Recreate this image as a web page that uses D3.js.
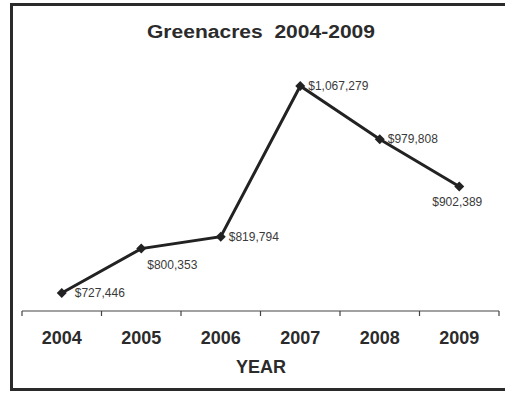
<!DOCTYPE html>
<meta charset="utf-8" />
<style>
    body { margin: 0; background: #fff; }
    text { font-family: Arial, "Liberation Sans", sans-serif; }
</style>
<svg width="505" height="394"></svg>
<script src="https://d3js.org/d3.v7.min.js"></script>
<script>
    var svg = d3.select("svg");

    // sales per year
    var years = ["2004", "2005", "2006", "2007", "2008", "2009"];
    var values = [727446, 800353, 819794, 1067279, 979808, 902389];
    // where each value label sits relative to its point
    var labelPos = ["right", "below", "right", "right", "right", "below"];

    var data = years.map(function (y, i) {
        return { year: y, value: values[i], pos: labelPos[i] };
    });

    // outer frame (left, top, bottom; runs off the right edge)
    svg.append("path")
        .attr("d", "M505,4.5 H11.5 V389.5 H505")
        .attr("fill", "none")
        .attr("stroke", "#2a2a2a")
        .attr("stroke-width", 3);

    svg.append("text")
        .attr("x", 261)
        .attr("y", 38)
        .attr("text-anchor", "middle")
        .attr("font-size", 18)
        .attr("font-weight", "bold")
        .attr("fill", "#2b2b2b")
        .attr("textLength", 228)
        .attr("lengthAdjust", "spacingAndGlyphs")
        .style("white-space", "pre")
        .text("Greenacres  2004-2009");

    var x = d3.scaleBand()
        .domain(years)
        .range([22, 499]);

    var y = d3.scaleLinear()
        .domain([727446, 1067279])
        .range([293, 86]);

    // x axis with ticks between categories
    var axis = svg.append("g").attr("transform", "translate(0,311)");
    axis.append("line")
        .attr("x1", 22).attr("x2", 499)
        .attr("stroke", "#444").attr("stroke-width", 1.2);
    var edges = years.map(function (d) { return x(d); }).concat([499]);
    axis.selectAll("line.tick")
        .data(edges)
        .enter()
        .append("line")
        .attr("class", "tick")
        .attr("x1", function (d) { return d; })
        .attr("x2", function (d) { return d; })
        .attr("y1", 0)
        .attr("y2", 5)
        .attr("stroke", "#444")
        .attr("stroke-width", 1.2);
    axis.selectAll("text")
        .data(years)
        .enter()
        .append("text")
        .attr("x", function (d) { return x(d) + x.bandwidth() / 2; })
        .attr("y", 33)
        .attr("text-anchor", "middle")
        .attr("font-size", 18)
        .attr("font-weight", "bold")
        .attr("fill", "#2b2b2b")
        .text(function (d) { return d; });

    svg.append("text")
        .attr("x", 261)
        .attr("y", 373)
        .attr("text-anchor", "middle")
        .attr("font-size", 18)
        .attr("font-weight", "bold")
        .attr("fill", "#2b2b2b")
        .text("YEAR");

    var cx = function (d) { return x(d.year) + x.bandwidth() / 2; };

    var line = d3.line()
        .x(cx)
        .y(function (d) { return y(d.value); });

    svg.append("path")
        .datum(data)
        .attr("d", line)
        .attr("fill", "none")
        .attr("stroke", "#222")
        .attr("stroke-width", 3);

    // square markers turned 45 degrees
    svg.append("g")
        .selectAll("path")
        .data(data)
        .enter()
        .append("path")
        .attr("d", d3.symbol().type(d3.symbolSquare).size(50))
        .attr("transform", function (d) {
            return "translate(" + cx(d) + "," + y(d.value) + ") rotate(45)";
        })
        .attr("fill", "#222");

    var fmt = d3.format("$,");
    svg.append("g")
        .selectAll("text")
        .data(data)
        .enter()
        .append("text")
        .attr("x", function (d) {
            if (d.year === "2009") return cx(d) - 2;
            if (d.year === "2004") return cx(d) + 13;
            return cx(d) + (d.pos === "right" ? 8 : 6);
        })
        .attr("y", function (d) {
            return d.pos === "right" ? y(d.value) + 4 : y(d.value) + 20;
        })
        .attr("text-anchor", function (d) {
            return d.year === "2009" ? "middle" : "start";
        })
        .attr("font-size", 12)
        .attr("fill", "#3a3a3a")
        .text(function (d) { return fmt(d.value); });
</script>
